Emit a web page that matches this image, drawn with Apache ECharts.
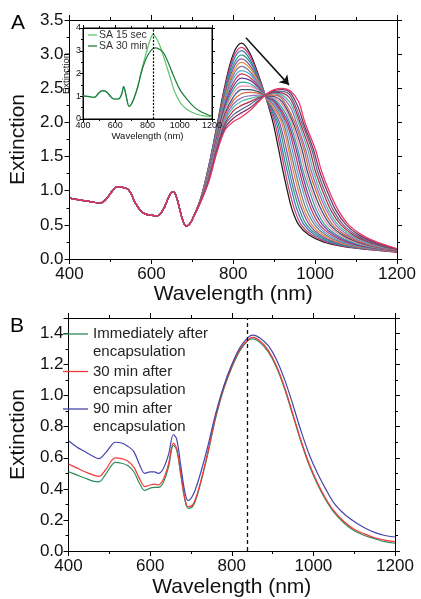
<!DOCTYPE html>
<html><head><meta charset="utf-8">
<script src="https://cdn.jsdelivr.net/npm/echarts@6/dist/echarts.min.js"></script>
<style>html,body{margin:0;padding:0;background:#fff}#chart{width:421px;height:599px}</style>
</head><body><div id="chart"></div>
<script>
// ---------- Panel A : shared part of all spectra (400-700 nm) ----------
const wavelengthSharedA = [400,420,440,460,475,490,505,517,530,545,560,572,584,600,612,622,632,642,652,660,668,676,685,693,700];
const extinctionSharedA = [0.89,0.87,0.85,0.83,0.82,0.88,1.00,1.06,1.05,1.01,0.83,0.72,0.66,0.64,0.63,0.66,0.76,0.90,0.985,0.93,0.76,0.58,0.48,0.51,0.58];

// Panel A : rising side / main peak, values at fixed wavelengths (one row per spectrum)
const riseWavelengthsA = [720,740,760,780,800,820,840,860,880];
const riseA = [
  [0.88,1.36,1.95,2.55,3.00,3.16,3.02,2.72,2.36],
  [0.88,1.35,1.93,2.52,2.95,3.10,2.98,2.70,2.36],
  [0.87,1.34,1.91,2.48,2.90,3.05,2.93,2.67,2.37],
  [0.87,1.32,1.89,2.45,2.84,2.99,2.89,2.65,2.37],
  [0.87,1.31,1.87,2.41,2.79,2.93,2.84,2.63,2.37],
  [0.87,1.30,1.85,2.38,2.74,2.88,2.80,2.61,2.37],
  [0.86,1.29,1.83,2.34,2.69,2.82,2.75,2.58,2.38],
  [0.86,1.28,1.81,2.31,2.64,2.76,2.71,2.56,2.38],
  [0.86,1.26,1.79,2.27,2.58,2.71,2.66,2.54,2.38],
  [0.86,1.25,1.77,2.24,2.53,2.65,2.62,2.52,2.38],
  [0.85,1.24,1.74,2.20,2.48,2.59,2.57,2.49,2.39],
  [0.85,1.23,1.72,2.17,2.43,2.53,2.53,2.47,2.39],
  [0.85,1.21,1.70,2.13,2.37,2.48,2.48,2.45,2.39],
  [0.85,1.20,1.68,2.10,2.32,2.42,2.44,2.43,2.39],
  [0.84,1.19,1.66,2.06,2.27,2.36,2.39,2.40,2.40],
  [0.84,1.18,1.64,2.03,2.22,2.31,2.35,2.38,2.40],
  [0.84,1.17,1.62,1.99,2.17,2.25,2.30,2.36,2.40],
  [0.84,1.15,1.60,1.96,2.11,2.19,2.26,2.34,2.40],
  [0.83,1.14,1.58,1.92,2.06,2.14,2.21,2.31,2.41],
  [0.83,1.13,1.56,1.89,2.01,2.08,2.17,2.29,2.41]
];
// Panel A : long-wavelength band top (900, 920, 940, 960 nm) where the spectrum is still above 2.0
const humpWavelengthsA = [900,920,940,960];
const humpA = [
  [],[],[],[],
  [2.16],[2.20],[2.24],[2.27],[2.30],
  [2.32,2.16],[2.34,2.21],[2.36,2.26],[2.38,2.30],[2.40,2.34],
  [2.42,2.37,2.22],[2.43,2.40,2.28],[2.44,2.43,2.34],[2.45,2.45,2.39],
  [2.47,2.48,2.43,2.20],[2.48,2.50,2.46,2.30]
];
// Panel A : falling side, wavelength at which each spectrum reaches these extinction levels
const fallLevelsA = [2.0,1.6,1.3,1.0,0.72,0.5,0.35,0.25,0.18];
const fallWavelengthsA = [
  [897,911,921,932,944,960,985,1020,1070],
  [901,916,926,937,950,966,992,1027,1076],
  [905,920,931,943,956,973,999,1034,1082],
  [909,925,936,948,962,979,1006,1041,1088],
  [913,930,941,953,968,986,1012,1047,1094],
  [918,935,946,959,973,992,1019,1054,1100],
  [922,939,951,964,979,999,1026,1061,1106],
  [926,944,956,970,985,1005,1033,1068,1112],
  [930,949,961,975,991,1011,1040,1075,1118],
  [934,954,966,980,997,1018,1047,1082,1124],
  [938,958,970,986,1003,1024,1053,1088,1130],
  [942,963,975,991,1009,1031,1060,1095,1137],
  [946,968,980,996,1015,1037,1067,1102,1143],
  [950,973,985,1002,1021,1043,1074,1109,1149],
  [954,977,990,1007,1027,1050,1081,1116,1155],
  [959,982,995,1012,1032,1056,1088,1123,1161],
  [963,987,1000,1018,1038,1063,1094,1129,1167],
  [967,992,1005,1023,1044,1069,1101,1136,1173],
  [971,996,1010,1029,1050,1076,1108,1143,1179],
  [975,1001,1015,1034,1056,1082,1115,1150,1185]
];
const endWavelengthA = 1200;
const endExtinctionA = [0.10,0.10,0.11,0.11,0.11,0.11,0.12,0.12,0.12,0.12,0.13,0.13,0.13,0.13,0.14,0.14,0.14,0.14,0.15,0.15];
const arrowStartA = [831, 3.24];
const arrowEndA = [936, 2.55];

// ---------- Inset ----------
const insetWavelength15s = [400,440,470,495,520,545,570,590,620,640,652,668,686,710,740,760,780,800,820,835,855,875,895,915,933,950,964,985,1006,1040,1069,1110,1150,1200];
const insetExtinction15s = [1.02,0.98,0.95,1.12,1.25,1.20,1.00,0.88,0.88,1.10,1.42,1.00,0.55,0.80,1.45,2.05,2.60,3.10,3.55,3.72,3.55,3.25,2.85,2.40,2.00,1.60,1.27,0.95,0.69,0.45,0.32,0.20,0.14,0.10];
const insetWavelength30m = [400,440,470,495,520,545,570,590,620,640,652,668,686,710,740,760,780,800,820,835,850,870,900,930,964,1000,1048,1090,1131,1170,1200];
const insetExtinction30m = [1.02,0.98,0.95,1.12,1.25,1.20,1.00,0.88,0.88,1.10,1.42,1.00,0.55,0.80,1.42,2.00,2.45,2.78,3.00,3.10,3.13,3.08,2.90,2.45,1.86,1.30,0.84,0.52,0.32,0.20,0.13];
const insetMarkerWavelength = 835;
const insetLegendNames = ['SA 15 sec','SA 30 min'];

// ---------- Panel B ----------
const wavelengthB = [400,420,440,460,474,490,505,514,530,545,560,575,587,600,610,620,632,645,657,665,675,685,693,705,720,740,760,780,800,820,840,852,870,890,910,930,950,970,990,1010,1030,1050,1075,1100,1125,1150,1175,1200];
const extinctionB0min = [0.51,0.49,0.47,0.45,0.445,0.49,0.55,0.57,0.565,0.55,0.51,0.43,0.39,0.405,0.41,0.41,0.44,0.54,0.68,0.65,0.49,0.33,0.275,0.29,0.40,0.61,0.85,1.04,1.18,1.29,1.355,1.365,1.34,1.28,1.18,1.04,0.87,0.70,0.55,0.43,0.33,0.25,0.18,0.13,0.10,0.08,0.06,0.05];
const extinctionB30min = [0.56,0.535,0.51,0.49,0.48,0.52,0.58,0.60,0.595,0.58,0.54,0.46,0.415,0.425,0.43,0.425,0.46,0.56,0.695,0.66,0.50,0.34,0.285,0.30,0.41,0.62,0.86,1.05,1.19,1.30,1.36,1.375,1.35,1.29,1.19,1.05,0.88,0.71,0.56,0.44,0.34,0.26,0.19,0.14,0.11,0.085,0.07,0.06];
const extinctionB90min = [0.71,0.67,0.64,0.61,0.595,0.63,0.68,0.70,0.695,0.675,0.64,0.55,0.50,0.51,0.51,0.50,0.53,0.62,0.75,0.72,0.55,0.38,0.325,0.36,0.47,0.66,0.88,1.06,1.20,1.31,1.375,1.39,1.37,1.32,1.23,1.10,0.94,0.77,0.62,0.50,0.40,0.31,0.24,0.19,0.15,0.12,0.10,0.09];
const markerWavelengthB = 838;
const legendB = [['Immediately after','encapsulation'],['30 min after','encapsulation'],['90 min after','encapsulation']];

// ---------- styling ----------
const FONT = 'Liberation Sans, Arial, Helvetica, sans-serif';
const paletteA = ['#1a1a1a','#d63a6a','#3b78c2','#2f9a7a','#8a4fb0','#e08a3c','#7a7a8a','#55a7d8','#c2375a','#6b3fa0','#3aa39a','#ee8fa8','#3d4f7a','#cf6a3a','#9a6cc6','#4fb9a8','#b0304a','#5a6a8a','#7a2f6a','#e8365f'];
const insetColors = ['#5cc46e','#1f7a3e'];
const colorsB = ['#2e8b57','#f23a3a','#4646aa'];

const zip = (xs, ys) => xs.map((x, i) => [x, ys[i]]);

const seriesA = riseA.map((rise, k) => {
  const pts = zip(wavelengthSharedA, extinctionSharedA)
    .concat(zip(riseWavelengthsA, rise))
    .concat(humpA[k].map((v, i) => [humpWavelengthsA[i], v]))
    .concat(fallWavelengthsA[k].map((w, i) => [w, fallLevelsA[i]]))
    .concat([[endWavelengthA, endExtinctionA[k]]]);
  return {type:'line', xAxisIndex:0, yAxisIndex:0, data:pts, showSymbol:false, smooth:0.35,
          lineStyle:{width:1.25, color:paletteA[k]}, silent:true, z:2};
});

function frameAxes(gridIndex, xr, yr, opts) {
  const common = {
    type:'value', gridIndex, splitLine:{show:false},
    axisLine:{show:true, onZero:false, lineStyle:{color:'#000', width:1}},
    axisTick:{show:true, inside:false, length:opts.tick, lineStyle:{color:'#000'}},
    minorTick:{show:true, splitNumber:2, length:opts.minor, lineStyle:{color:'#000'}},
    z: opts.z
  };
  const xb = Object.assign({}, common, {position:'bottom', min:xr[0], max:xr[1], interval:xr[2],
    axisLabel:{show:true, color:'#111', fontFamily:FONT, fontSize:opts.lf, margin:opts.xm, formatter: v => String(v)},
    name:'Wavelength (nm)', nameLocation:'middle', nameGap:opts.xng,
    nameTextStyle:{color:'#111', fontFamily:FONT, fontSize:opts.nf}});
  const xt = Object.assign({}, common, {position:'top', min:xr[0], max:xr[1], interval:xr[2], axisLabel:{show:false}});
  const yl = Object.assign({}, common, {position:'left', min:yr[0], max:yr[1], interval:yr[2],
    axisLabel:{show:true, color:'#111', fontFamily:FONT, fontSize:opts.lf, margin:opts.ym,
      formatter: v => (v > yr[3] + 1e-9 ? '' : v.toFixed(opts.dec))},
    name:'Extinction', nameLocation:'middle', nameGap:opts.yng,
    nameTextStyle:{color:'#111', fontFamily:FONT, fontSize:opts.nf}});
  const yrt = Object.assign({}, common, {position:'right', min:yr[0], max:yr[1], interval:yr[2], axisLabel:{show:false}});
  return {x:[xb, xt], y:[yl, yrt]};
}

const axA = frameAxes(0, [400,1200,200], [0,3.5,0.5,3.5], {tick:5, minor:3, lf:17, nf:21, xm:7, ym:6, xng:20, yng:34, dec:1, z:3});
const axI = frameAxes(1, [400,1200,200], [0,4,1,4], {tick:3, minor:2, lf:9, nf:9.5, xm:2, ym:2, xng:10, yng:12, dec:0, z:12});
const axB = frameAxes(2, [400,1200,200], [0,1.5,0.2,1.4], {tick:5, minor:3, lf:17, nf:21, xm:7, ym:5, xng:26, yng:30, dec:1, z:3});

const option = {
  animation:false,
  backgroundColor:'#fff',
  grid:[
    {left:63, top:20, width:334, height:239, show:false},
    {left:83, top:28, width:129, height:91, show:true, backgroundColor:'#fff', borderColor:'#000', borderWidth:1, z:10},
    {left:59, top:318, width:336, height:240, show:false}
  ],
  xAxis: axA.x.concat(axI.x, axB.x),
  yAxis: axA.y.concat(axI.y, axB.y),
  series: seriesA.concat([
    {type:'lines', coordinateSystem:'cartesian2d', xAxisIndex:0, yAxisIndex:0, z:5, silent:true,
     symbol:['none','arrow'], symbolSize:9,
     lineStyle:{color:'#111', width:1.5, opacity:1},
     data:[{coords:[arrowStartA, arrowEndA]}]},
    {type:'line', xAxisIndex:2, yAxisIndex:2, data:zip(insetWavelength15s, insetExtinction15s), showSymbol:false, smooth:0.35,
     lineStyle:{width:1.2, color:insetColors[0]}, z:13, silent:true,
     markLine:{silent:true, symbol:'none', label:{show:false}, z:14, lineStyle:{color:'#000', type:[2,1.5], width:1.2, opacity:1},
       data:[{xAxis:insetMarkerWavelength}]}},
    {type:'line', xAxisIndex:2, yAxisIndex:2, data:zip(insetWavelength30m, insetExtinction30m), showSymbol:false, smooth:0.35,
     lineStyle:{width:1.2, color:insetColors[1]}, z:13, silent:true},
    {type:'line', xAxisIndex:4, yAxisIndex:4, data:zip(wavelengthB, extinctionB0min), showSymbol:false, smooth:0.35,
     lineStyle:{width:1.2, color:colorsB[0]}, silent:true,
     markLine:{silent:true, symbol:'none', label:{show:false}, lineStyle:{color:'#111', type:[4,3], width:1.3, opacity:1},
       data:[{xAxis:markerWavelengthB}]}},
    {type:'line', xAxisIndex:4, yAxisIndex:4, data:zip(wavelengthB, extinctionB30min), showSymbol:false, smooth:0.35,
     lineStyle:{width:1.2, color:colorsB[1]}, silent:true},
    {type:'line', xAxisIndex:4, yAxisIndex:4, data:zip(wavelengthB, extinctionB90min), showSymbol:false, smooth:0.35,
     lineStyle:{width:1.2, color:colorsB[2]}, silent:true}
  ]),
  graphic: [
    {type:'text', x:11, y:23, z:20, style:{text:'A', font:'21px ' + FONT, fill:'#000', textAlign:'left', textVerticalAlign:'middle', align:'left', verticalAlign:'middle'}},
    {type:'text', x:10, y:326, z:20, style:{text:'B', font:'21px ' + FONT, fill:'#000', textAlign:'left', textVerticalAlign:'middle', align:'left', verticalAlign:'middle'}}
  ].concat(insetLegendNames.flatMap((name, i) => [
    {type:'line', z:20, shape:{x1:88, y1:35 + i*11, x2:97, y2:35 + i*11}, style:{stroke:insetColors[i], lineWidth:1.3}},
    {type:'text', z:20, x:99, y:35 + i*11, style:{text:name, font:'10.5px ' + FONT, fill:'#333', textAlign:'left', textVerticalAlign:'middle', align:'left', verticalAlign:'middle'}}
  ])).concat(legendB.flatMap((lines, i) => [
    {type:'line', z:20, shape:{x1:63, y1:334 + i*37.5, x2:88, y2:334 + i*37.5}, style:{stroke:colorsB[i], lineWidth:1.3}},
    {type:'text', z:20, x:93, y:334 + i*37.5, style:{text:lines[0], font:'15px ' + FONT, fill:'#222', textAlign:'left', textVerticalAlign:'middle', align:'left', verticalAlign:'middle'}},
    {type:'text', z:20, x:93, y:352 + i*37.5, style:{text:lines[1], font:'15px ' + FONT, fill:'#222', textAlign:'left', textVerticalAlign:'middle', align:'left', verticalAlign:'middle'}}
  ]))
};

const chart = echarts.init(document.getElementById('chart'), null, {renderer:'canvas'});
chart.setOption(option);
</script></body></html>
